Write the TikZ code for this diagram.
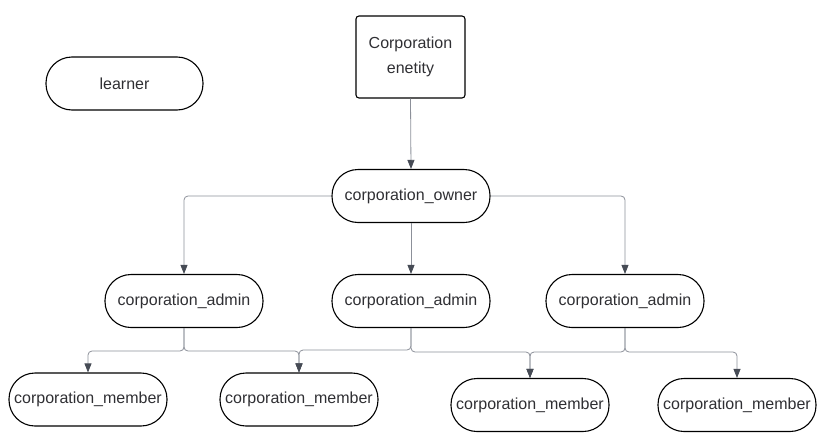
\documentclass[tikz,border=0pt]{standalone}
\usepackage{fontspec}
\setmainfont{Liberation Sans}
\usetikzlibrary{arrows.meta}
\definecolor{txt}{HTML}{2F2F33}
\definecolor{conn}{HTML}{8C9099}
\definecolor{tip}{HTML}{464B55}
\tikzset{
  pill/.style={draw=black, line width=1.1pt, rectangle, rounded corners=26pt,
    minimum width=158pt, minimum height=53pt, inner sep=0pt, text=txt,
    font=\fontsize{16}{19}\selectfont},
  ebox/.style={draw=black, line width=1.1pt, rectangle, rounded corners=3pt,
    minimum width=109pt, minimum height=82pt, inner sep=0pt, text=txt, align=center,
    font=\fontsize{16}{25}\selectfont},
  link/.style={draw=conn, line width=0.8pt, rounded corners=4pt,
    -{Triangle[length=9pt,width=7pt,fill=tip,color=tip]}},
  plain/.style={draw=conn, line width=0.8pt, rounded corners=4pt}
}
\begin{document}
\begin{tikzpicture}[x=1pt,y=-1pt]
\useasboundingbox (0,0) rectangle (835,442);
\node[pill, minimum width=157pt] (learner) at (124.5,83.5) {learner};
\node[ebox] (ent) at (410.5,57) {Corporation\\enetity};
\node[pill] (own) at (411,196) {corporation\_owner};
\node[pill] (a1) at (184,301) {corporation\_admin};
\node[pill] (a2) at (411,301) {corporation\_admin};
\node[pill] (a3) at (625,301) {corporation\_admin};
\node[pill] (m1) at (88,399.5) {corporation\_member};
\node[pill] (m2) at (299,399.5) {corporation\_member};
\node[pill] (m3) at (530,405) {corporation\_member};
\node[pill] (m4) at (737,405) {corporation\_member};
\coordinate (j1) at (184,351);
\coordinate (j2a) at (411,350);
\coordinate (j2b) at (411,352);
\coordinate (j3) at (625,352);
\draw[link] (ent.south) -- (own.north);
\draw[link] (own.west) -| (a1.north);
\draw[link] (own.south) -- (a2.north);
\draw[link] (own.east) -| (a3.north);
\draw[link] (a1.south) -- (j1) -| (m1.north);
\draw[link] (a1.south) -- (j1) -| (m2.north);
\draw[link] (a2.south) -- (j2a) -| (m2.north);
\draw[link] (a2.south) -- (j2b) -| (m3.north);
\draw[link] (a3.south) -- (j3) -| (m3.north);
\draw[link] (a3.south) -- (j3) -| (m4.north);
\end{tikzpicture}
\end{document}
